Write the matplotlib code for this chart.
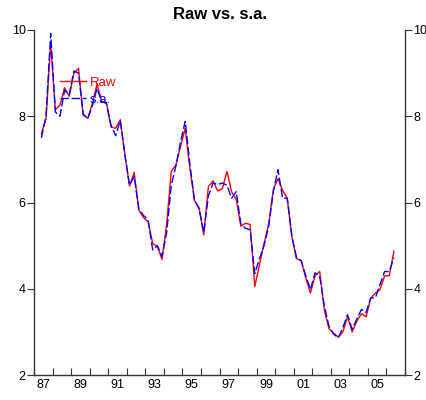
import numpy as np
import matplotlib.pyplot as plt

plt.rcParams['font.family'] = ['Liberation Sans', 'DejaVu Sans']

# quarterly observations starting 1987.4
start = 1987.4
raw = [7.60, 7.95, 9.70, 8.15, 8.26, 8.66, 8.46, 9.00, 9.11, 8.03,
       7.95, 8.30, 8.75, 8.34, 8.32, 7.75, 7.72, 7.92, 7.12, 6.38,
       6.70, 5.83, 5.65, 5.55, 5.05, 4.98, 4.68, 5.50, 6.72, 6.87,
       7.30, 7.72, 6.80, 6.05, 5.88, 5.25, 6.37, 6.50, 6.27, 6.32,
       6.72, 6.25, 6.07, 5.45, 5.52, 5.49, 4.05, 4.55, 5.05, 5.50,
       6.30, 6.55, 6.28, 6.10, 5.20, 4.70, 4.65, 4.25, 3.90, 4.30,
       4.40, 3.50, 3.07, 2.97, 2.88, 3.00, 3.35, 3.00, 3.25, 3.42,
       3.35, 3.78, 3.90, 3.98, 4.30, 4.30, 4.87]
sa = [7.50, 8.00, 9.92, 8.10, 8.00, 8.60, 8.50, 9.05, 9.00, 8.05,
      7.95, 8.25, 8.65, 8.34, 8.30, 7.80, 7.55, 7.90, 7.10, 6.40,
      6.60, 5.85, 5.70, 5.60, 4.90, 5.00, 4.75, 5.30, 6.40, 6.85,
      7.40, 7.88, 6.90, 6.05, 5.85, 5.30, 6.15, 6.45, 6.42, 6.45,
      6.40, 6.10, 6.25, 5.50, 5.40, 5.37, 4.35, 4.70, 5.00, 5.45,
      6.25, 6.76, 6.10, 6.10, 5.22, 4.72, 4.65, 4.30, 3.98, 4.37,
      4.29, 3.60, 3.13, 2.95, 2.86, 3.10, 3.40, 3.06, 3.30, 3.52,
      3.45, 3.79, 3.79, 4.10, 4.40, 4.40, 4.72]
t = start + 0.25 * np.arange(len(raw))

years = np.arange(1987, 2008)
label_years = np.arange(1987, 2007, 2)
labels = ['%02d' % (y % 100) for y in label_years]

fig = plt.figure(figsize=(4.27, 4.0), dpi=100)
ax = fig.add_axes([0.0796, 0.0625, 0.869, 0.8625])

ax.plot(t, raw, color='red', lw=1.0, label='Raw')
ax.plot(t, sa, color='blue', lw=1.0, dashes=(6, 2), label='s.a.')

ax.set_xlim(1987, 2007)
ax.set_ylim(2, 10)

ax.set_xticks(years)
ax.set_xticklabels([])
ax.set_xticks(label_years + 0.5, minor=True)
ax.set_xticklabels(labels, minor=True)
ax.tick_params(axis='x', which='major', direction='in', length=5, color='#333333')
ax.tick_params(axis='x', which='minor', length=0, pad=3, labelsize=9)

ax.set_yticks([2, 4, 6, 8, 10])
ax.tick_params(axis='y', direction='out', length=5, labelsize=9, color='#333333',
               left=True, right=True, labelleft=True, labelright=True, pad=1)

ax.spines['top'].set_visible(False)
for s in ['left', 'right', 'bottom']:
    ax.spines[s].set_color('#333333')
    ax.spines[s].set_linewidth(1.0)

ax.legend(loc='upper left', bbox_to_anchor=(0.055, 0.88), frameon=False,
          labelcolor='linecolor', fontsize=9.5, handlelength=2.0,
          handletextpad=0.3, labelspacing=0.35, borderaxespad=0)

ax.set_title('Raw vs. s.a.', fontsize=12, fontweight='bold', pad=8)

fig.savefig('out.png', dpi=100)
